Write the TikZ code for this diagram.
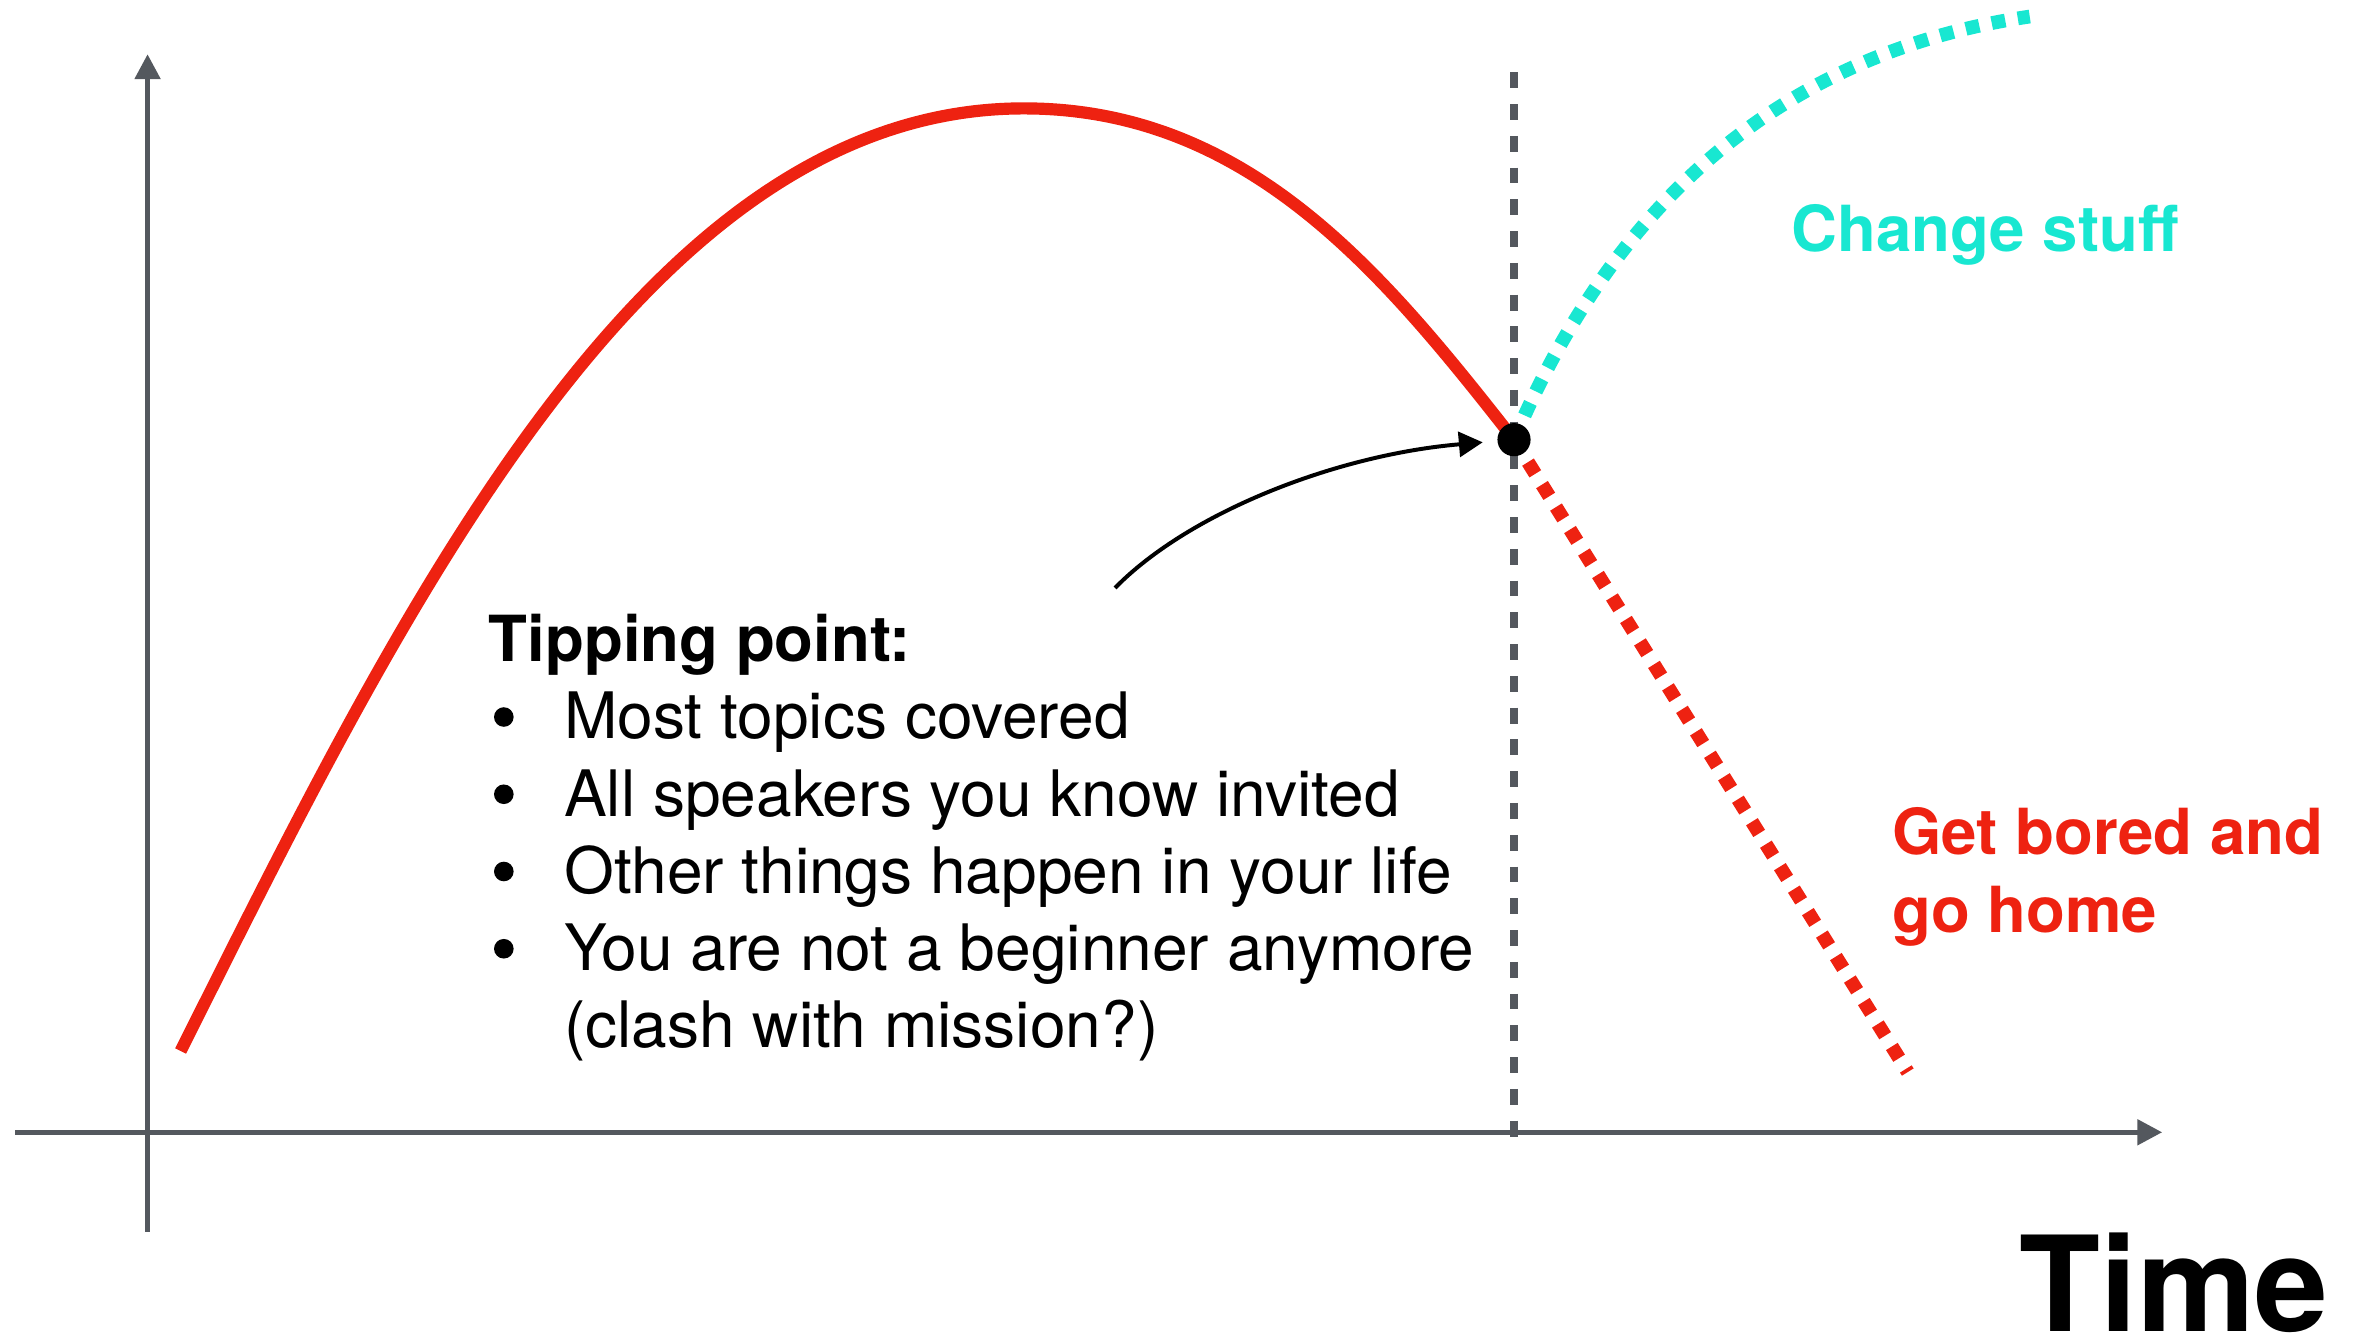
\documentclass[tikz,border=0pt]{standalone}
\usepackage{fontspec}
\setmainfont{TeX Gyre Heros}
\usetikzlibrary{arrows.meta}
\definecolor{axisgray}{RGB}{84,88,94}
\definecolor{tipred}{RGB}{238,34,17}
\definecolor{tipcyan}{RGB}{24,231,209}

\begin{document}
\begin{tikzpicture}[x=0.01cm,y=-0.01cm,>={Triangle[length=4.7pt,width=4.7pt]},
  axisline/.style={draw=axisgray,line width=1pt,->},
  branch/.style={line width=2.6pt,dash pattern=on 2.6pt off 2.4pt},
  txt/.style={anchor=base west,inner sep=0pt,font=\fontsize{12.1}{14.6}\selectfont},
  btxt/.style={txt,font=\fontsize{12}{14.6}\selectfont\bfseries}]
\useasboundingbox (0,0) rectangle (1568,889);
\coordinate (y0) at (98,818);
\coordinate (y1) at (98,36);
\coordinate (x0) at (10,752);
\coordinate (x1) at (1436,752);
\coordinate (v0) at (1005.5,48);
\coordinate (v1) at (1005.5,762);
\draw[axisline] (y0)--(y1);
\draw[axisline] (x0)--(x1);
\draw[draw=axisgray,line width=1.5pt,dash pattern=on 3pt off 3pt] (v0)--(v1);
\draw[tipred,line width=2.3pt] (120,698) .. controls (270,398) and (430,72) .. (680,72) .. controls (830,72) and (920,183) .. (1005.5,292);
\coordinate (tp) at (1005.5,292);
\coordinate (chg) at (1348,11);
\coordinate (brd) at (1267,712);
\draw[branch,tipcyan] (tp) .. controls (1055,175) and (1150,40) .. (chg);
\draw[branch,tipred] (tp)--(brd);
\node[circle,fill=black,inner sep=0pt,minimum size=0.22cm] (tip) at (tp) {};
\coordinate (nt) at (740.5,390.5);
\draw[line width=0.75pt,-{Triangle[length=4.5pt,width=4.7pt]},shorten >=2.6pt] (nt) .. controls (790,340) and (888,302) .. (tip);
\node[btxt] (t0) at (324,439.5) {Tipping point:};
\node[txt] (t1) at (374,490.8) {Most topics covered};
\node[txt] (t2) at (374,542.1) {All speakers you know invited};
\node[txt] (t3) at (374,593.4) {Other things happen in your life};
\node[txt] (t4) at (374,644.7) {You are not a beginner anymore};
\node[txt] (t5) at (374,696) {(clash with mission?)};
\foreach \yy in {490.8,542.1,593.4,644.7}
  \fill (334.6,\yy-14.6) circle[radius=0.065cm];
\node[btxt,text=tipcyan] (chg_l) at (1189,167) {Change stuff};
\node[btxt,text=tipred] (brd_l1) at (1256,567.5) {Get bored and};
\node[btxt,text=tipred] (brd_l2) at (1256,619) {go home};
\node[anchor=base east,inner sep=0pt,font=\fontsize{25}{30}\selectfont\bfseries] (time) at (1547,884) {Time};
\end{tikzpicture}
\end{document}
